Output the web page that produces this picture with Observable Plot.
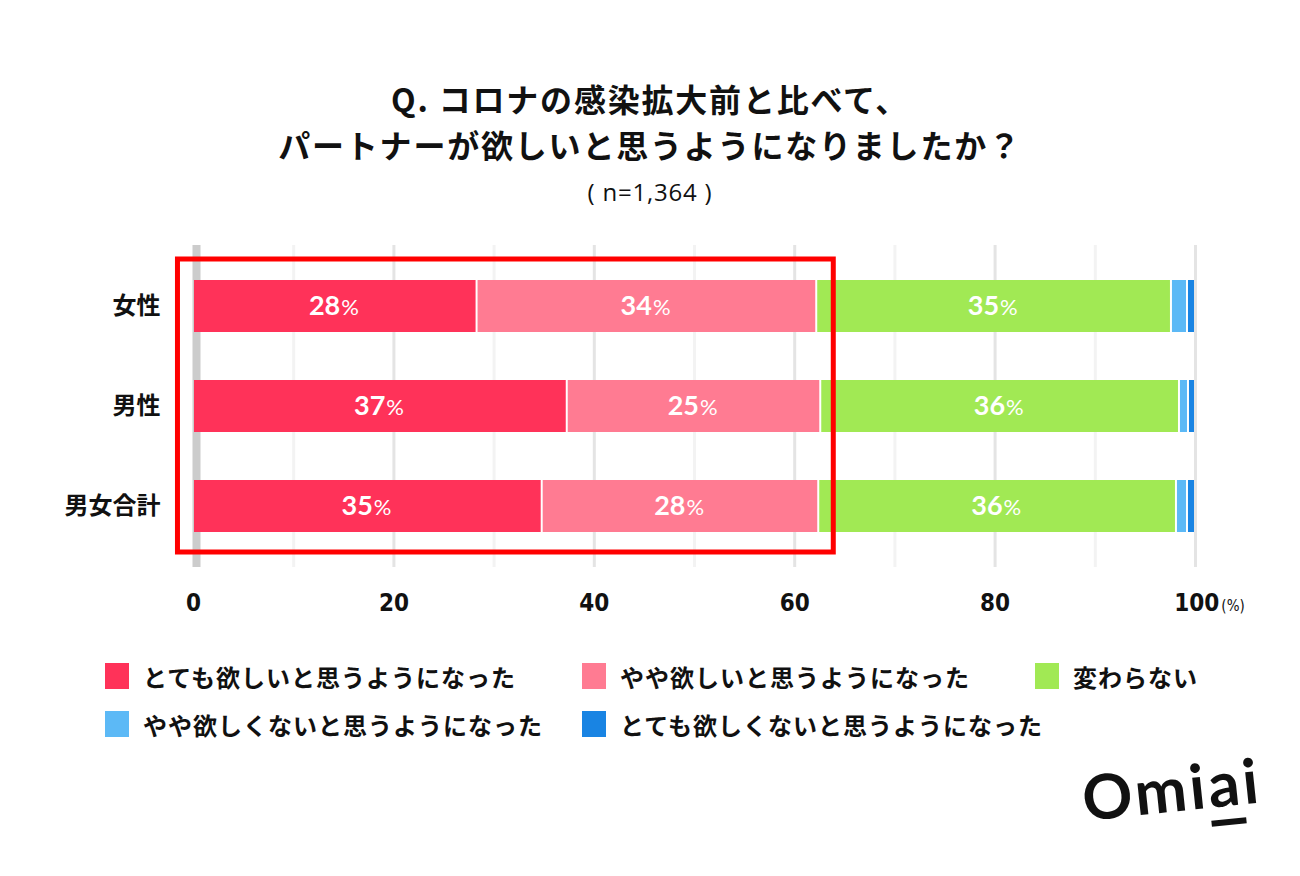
<!DOCTYPE html>
<html>
<head>
<meta charset="utf-8">
<script src="https://cdn.jsdelivr.net/npm/d3@7"></script>
<script src="https://cdn.jsdelivr.net/npm/@observablehq/plot@0.6"></script>
<style>
  html, body { margin: 0; padding: 0; background: #fff; }
  #root { position: relative; width: 1300px; height: 876px; overflow: hidden; background: #fff;
          font-family: "Noto Sans CJK JP", "Noto Sans", sans-serif; color: #111; }
  .title { position: absolute; left: 0; width: 1300px; text-align: center; font-weight: 700;
           font-size: 32px; line-height: 40px; height: 40px; letter-spacing: 1.8px; white-space: nowrap; }
  .sub { position: absolute; left: 0; width: 1300px; text-align: center; font-size: 24px; line-height: 28px;
         font-family: "Open Sans", "Noto Sans", sans-serif; letter-spacing: 0.8px; }
  #chart { position: absolute; left: 0; top: 220px; }
  .lg { position: absolute; display: flex; align-items: center; font-weight: 700; font-size: 24px;
        letter-spacing: 1px; white-space: nowrap; }
  .sw { width: 24px; height: 26px; margin-right: 14px; flex: none; }
  .logo { position: absolute; left: 1086px; top: 760px; font-family: Lato, "Open Sans", sans-serif;
          font-weight: 700; font-size: 62px; letter-spacing: 3px; transform: rotate(-6deg); transform-origin: left bottom; }
  .logo .u { border-bottom: 6px solid #111; }
</style>
</head>
<body>
<div id="root">
  <div class="title" id="t1" style="top:78px"></div>
  <div class="title" id="t2" style="top:124px"></div>
  <div class="sub" id="sub" style="top:178px"></div>
  <div id="chart"></div>
  <div id="legend"></div>
  <div class="logo">Omi<span class="u">a</span>i</div>
</div>
<script>
const titleLines = ["Q. コロナの感染拡大前と比べて、", "パートナーが欲しいと思うようになりましたか？"];
const subtitle = "( n=1,364 )";
const categories = ["女性", "男性", "男女合計"];
const responses = [
  "とても欲しいと思うようになった",
  "やや欲しいと思うようになった",
  "変わらない",
  "やや欲しくないと思うようになった",
  "とても欲しくないと思うようになった"
];
const colors = ["#FF3259", "#FF7B92", "#A1E954", "#5CB9F6", "#1984E3"];
const female = [28.3, 33.9, 35.4, 1.6, 0.8];
const male   = [37.3, 25.3, 35.8, 0.9, 0.7];
const total  = [34.8, 27.6, 35.7, 1.1, 0.8];
const xTicks = [0, 20, 40, 60, 80, 100];
const gridTicks = [10, 20, 30, 40, 50, 60, 70, 80, 90, 100];
const highlightRange = [-1.55, 63.9];

// titles
document.getElementById("t1").textContent = titleLines[0];
document.getElementById("t2").textContent = titleLines[1];
document.getElementById("sub").textContent = subtitle;

const series = [female, male, total];
const table = [];
categories.forEach((c, i) => {
  responses.forEach((r, j) => table.push({cat: c, response: r, value: series[i][j]}));
});

const labelFont = "Lato, 'Noto Sans', sans-serif";

const chart = Plot.plot({
  width: 1300,
  height: 400,
  marginTop: 25,
  marginBottom: 53,
  marginLeft: 193,
  marginRight: 105,
  style: {fontFamily: "'Noto Sans CJK JP', sans-serif", color: "#111", background: "transparent"},
  x: {domain: [0, 100]},
  y: {domain: categories, paddingInner: 0.48, paddingOuter: 0.35},
  color: {domain: responses, range: colors},
  marks: [
    Plot.ruleX(gridTicks, {stroke: d => d % 20 === 0 ? "#e4e4e4" : "#f3f3f3", strokeWidth: 3}),
    Plot.ruleX([0], {stroke: "#cccccc", strokeWidth: 8, dx: 3}),
    Plot.barX(table, Plot.stackX({x: "value", y: "cat", fill: "response", insetLeft: 1, insetRight: 1})),
    Plot.text(table, Plot.stackX({
      x: "value", y: "cat",
      text: d => d.value > 5 ? String(Math.round(d.value)) : null,
      textAnchor: "end", dx: 5, fill: "white", fontSize: 27, fontWeight: 700, fontFamily: labelFont
    })),
    Plot.text(table, Plot.stackX({
      x: "value", y: "cat",
      text: d => d.value > 5 ? "%" : null,
      textAnchor: "start", dx: 6, dy: 1, fill: "white", fontSize: 22, fontWeight: 400, fontFamily: labelFont
    })),
    Plot.rect([highlightRange], {x1: d => d[0], x2: d => d[1], fill: "none", stroke: "#ff0000",
      strokeWidth: 5, insetTop: 14, insetBottom: 15}),
    Plot.axisY({tickSize: 0, tickPadding: 33, label: null, fontSize: 24, fontWeight: 700}),
    Plot.axisX(xTicks, {tickSize: 0, tickPadding: 26, label: null, fontSize: 24, fontWeight: 700,
      fontFamily: "'DejaVu Sans Condensed', 'Liberation Sans Narrow', sans-serif"})
  ]
});
document.getElementById("chart").appendChild(chart);

// "(%)" suffix on the 100 tick
d3.select(chart).selectAll("text").filter(function() { return this.textContent === "100"; })
  .each(function() {
    const t = d3.select(this);
    t.attr("dx", 14);
    t.append("tspan").attr("font-size", 15).attr("font-weight", 400).attr("dx", 2).text("(%)");
  });

// legend
const legendPos = [[105, 676], [582, 676], [1035, 676], [105, 724], [582, 724]];
const legend = document.getElementById("legend");
responses.forEach((r, i) => {
  const item = document.createElement("div");
  item.className = "lg";
  item.style.left = legendPos[i][0] + "px";
  item.style.top = (legendPos[i][1] - 17) + "px";
  item.style.height = "34px";
  const sw = document.createElement("div");
  sw.className = "sw";
  sw.style.background = colors[i];
  const tx = document.createElement("span");
  tx.textContent = r;
  item.appendChild(sw); item.appendChild(tx);
  legend.appendChild(item);
});
</script>
</body>
</html>
